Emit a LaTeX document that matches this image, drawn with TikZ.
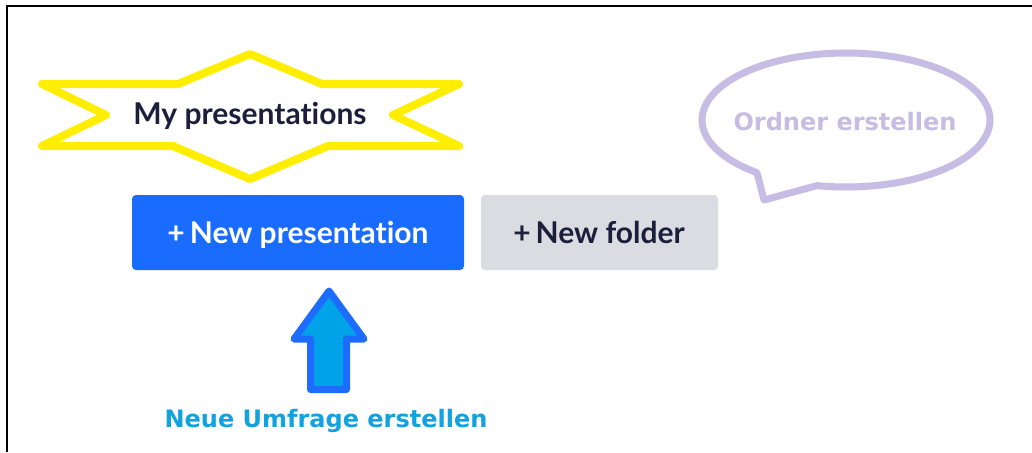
\documentclass[tikz,border=0pt]{standalone}
\usepackage{fontspec}
\setmainfont{Lato}[Ligatures=NoCommon]
\newfontfamily\dvs{DejaVu Sans}
\definecolor{starY}{HTML}{FFEE00}
\definecolor{navy}{HTML}{1B1F3B}
\definecolor{btnBlue}{HTML}{196CFF}
\definecolor{btnGrey}{HTML}{DBDCE1}
\definecolor{lav}{HTML}{C6BDE4}
\definecolor{arrOut}{HTML}{1E6BFF}
\definecolor{arrFill}{HTML}{00A2E8}
\definecolor{cyanTxt}{HTML}{12A2E0}
\tikzset{
  mentitxt/.style={font=\fontsize{30}{32}\selectfont\bfseries, inner sep=0pt},
  notetxt/.style={font=\dvs\fontsize{24}{27}\selectfont\bfseries, inner sep=0pt},
}
\begin{document}
\begin{tikzpicture}[x=1pt,y=-1pt]
\useasboundingbox (0,0) rectangle (1032,452);
\fill[white] (0,0) rectangle (1032,452);
% frame
\draw[black, line width=2.5pt] (7,452) -- (7,6) -- (1032,6);
% star
\draw[starY, line width=8pt, line join=round, fill=white]
  (42,84) -- (178,84) -- (250,54) -- (322,84) -- (459,84) -- (393,115)
  -- (459,146) -- (328,146) -- (250,179) -- (173,146) -- (42,146) -- (106,115) -- cycle;
\node[mentitxt, text=navy] (title) at (250,116) {My presentations};
% buttons
\fill[btnBlue, rounded corners=4pt] (132,195) rectangle (464,270);
\node (newpres) [mentitxt, text=white] at (298,235) {+\,New presentation};
\fill[btnGrey, rounded corners=4pt] (481,195) rectangle (718,270);
\node (newfolder) [mentitxt, text=navy] at (599,232) {+\,New folder};
% speech bubble
\draw[lav, line width=7pt, line join=round, fill=white]
  plot[domain=128.2:461.6, samples=160] ({846+144*cos(\x)},{120+67*sin(\x)})
  -- (764,200) -- cycle;
\node[notetxt, text=lav] (ordner) at (845,122) {Ordner erstellen};
% arrow
\draw[arrOut, fill=arrFill, line width=7pt, line join=round]
  (329,291) -- (364,339) -- (346.5,339) -- (346.5,389.5) -- (310.5,389.5)
  -- (310.5,339) -- (294,339) -- cycle;
\node[notetxt, text=cyanTxt] (umfrage) at (326,421) {Neue Umfrage erstellen};
\end{tikzpicture}
\end{document}
